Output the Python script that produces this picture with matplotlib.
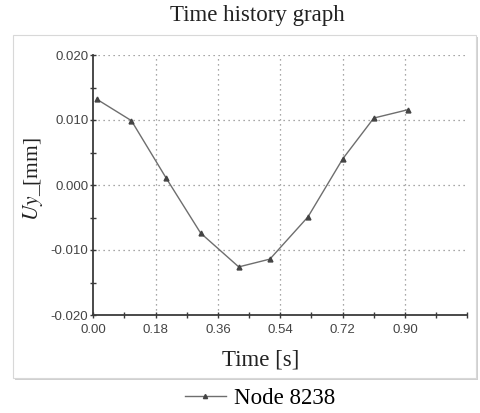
import matplotlib
matplotlib.use("Agg")
import matplotlib.pyplot as plt
from matplotlib.patches import Rectangle
from matplotlib.lines import Line2D

# values
time_s = [0.01, 0.11, 0.21, 0.31, 0.42, 0.51, 0.62, 0.72, 0.81, 0.91]
uy_mm = [0.0132, 0.0099, 0.0011, -0.0074, -0.0126, -0.0114, -0.0049, 0.0040, 0.0103, 0.0116]
x_ticks = [0.00, 0.18, 0.36, 0.54, 0.72, 0.90, 1.08]
x_tick_labels = ["0.00", "0.18", "0.36", "0.54", "0.72", "0.90", ""]
y_ticks = [-0.020, -0.010, 0.000, 0.010, 0.020]
y_tick_labels = ["-0.020", "-0.010", "0.000", "0.010", "0.020"]
series_name = "Node 8238"

plt.rcParams["mathtext.fontset"] = "stix"
serif = ["Liberation Serif", "DejaVu Serif"]
W, H = 480, 413

fig = plt.figure(figsize=(W / 100, H / 100), dpi=100)

# panel frame with shadow
fig.patches.append(Rectangle((15 / W, 1 - 380 / H), 463 / W, 343 / H, transform=fig.transFigure,
                             facecolor="#d0d0d0", edgecolor="none", zorder=-2))
fig.patches.append(Rectangle((13 / W, 1 - 378 / H), 463 / W, 343 / H, transform=fig.transFigure,
                             facecolor="white", edgecolor="#d8d8d8", linewidth=0.8, zorder=-1))

ax = fig.add_axes([93.3 / W, 1 - 315 / H, (467.3 - 93.3) / W, (315 - 55) / H])
ax.set_facecolor("none")

ax.plot(time_s, uy_mm, color="#6e6e6e", linewidth=1.0, marker="^", markersize=3.5,
        markerfacecolor="#444444", markeredgecolor="#444444", label=series_name, clip_on=False)

ax.set_xlim(0, 1.08)
ax.set_ylim(-0.020, 0.020)
ax.set_xticks(x_ticks)
ax.set_xticklabels(x_tick_labels)
ax.set_xticks([0.09, 0.27, 0.45, 0.63, 0.81, 0.99], minor=True)
ax.set_yticks(y_ticks)
ax.set_yticklabels(y_tick_labels)
ax.set_yticks([-0.015, -0.005, 0.005, 0.015], minor=True)

for s in ["top", "right"]:
    ax.spines[s].set_visible(False)
for s in ["left", "bottom"]:
    ax.spines[s].set_color("#3a3a3a")
    ax.spines[s].set_linewidth(1.3)

ax.tick_params(which="both", direction="inout", length=5, width=1.0, color="#3a3a3a",
               labelsize=9.5, labelcolor="#444444")
ax.tick_params(axis="x", pad=4)
ax.tick_params(axis="y", pad=1)
for lab in ax.get_xticklabels() + ax.get_yticklabels():
    lab.set_family(["Liberation Sans", "DejaVu Sans"])

gkw = dict(color="#8a8a8a", linewidth=0.9, linestyle=(0, (1, 3)), zorder=0.5)
for xv in x_ticks[1:-1]:
    ax.plot([xv, xv], [-0.020, 0.020], **gkw)
for yv in y_ticks[1:]:
    ax.plot([0, 1.08], [yv, yv], **gkw)

fig.text(257 / W, 1 - 16 / H, "Time history graph", family=serif, fontsize=16.5,
         ha="center", va="center", color="#222222")
ax.set_xlabel("Time [s]", family=serif, fontsize=16.5, color="#222222")
ax.xaxis.set_label_coords((261 - 93.3) / 374, -(360 - 315) / 260)
ax.xaxis.label.set_va("center")
ax.set_ylabel(r"$Uy$_[mm]", family=serif, fontsize=15.5, color="#222222")
ax.yaxis.set_label_coords(-(93.3 - 33) / 374, (315 - 179) / 260)
ax.yaxis.label.set_va("center")

handle = Line2D([], [], color="#6e6e6e", linewidth=1.0, marker="^", markersize=3,
                markerfacecolor="#444444", markeredgecolor="#444444")
fig.legend([handle], [series_name], loc="center", bbox_to_anchor=(260 / W, 1 - 398 / H),
           frameon=False, prop={"family": serif, "size": 16.5}, handlelength=1.8,
           handletextpad=0.35, borderpad=0, borderaxespad=0)

fig.savefig("out.png", dpi=100)
